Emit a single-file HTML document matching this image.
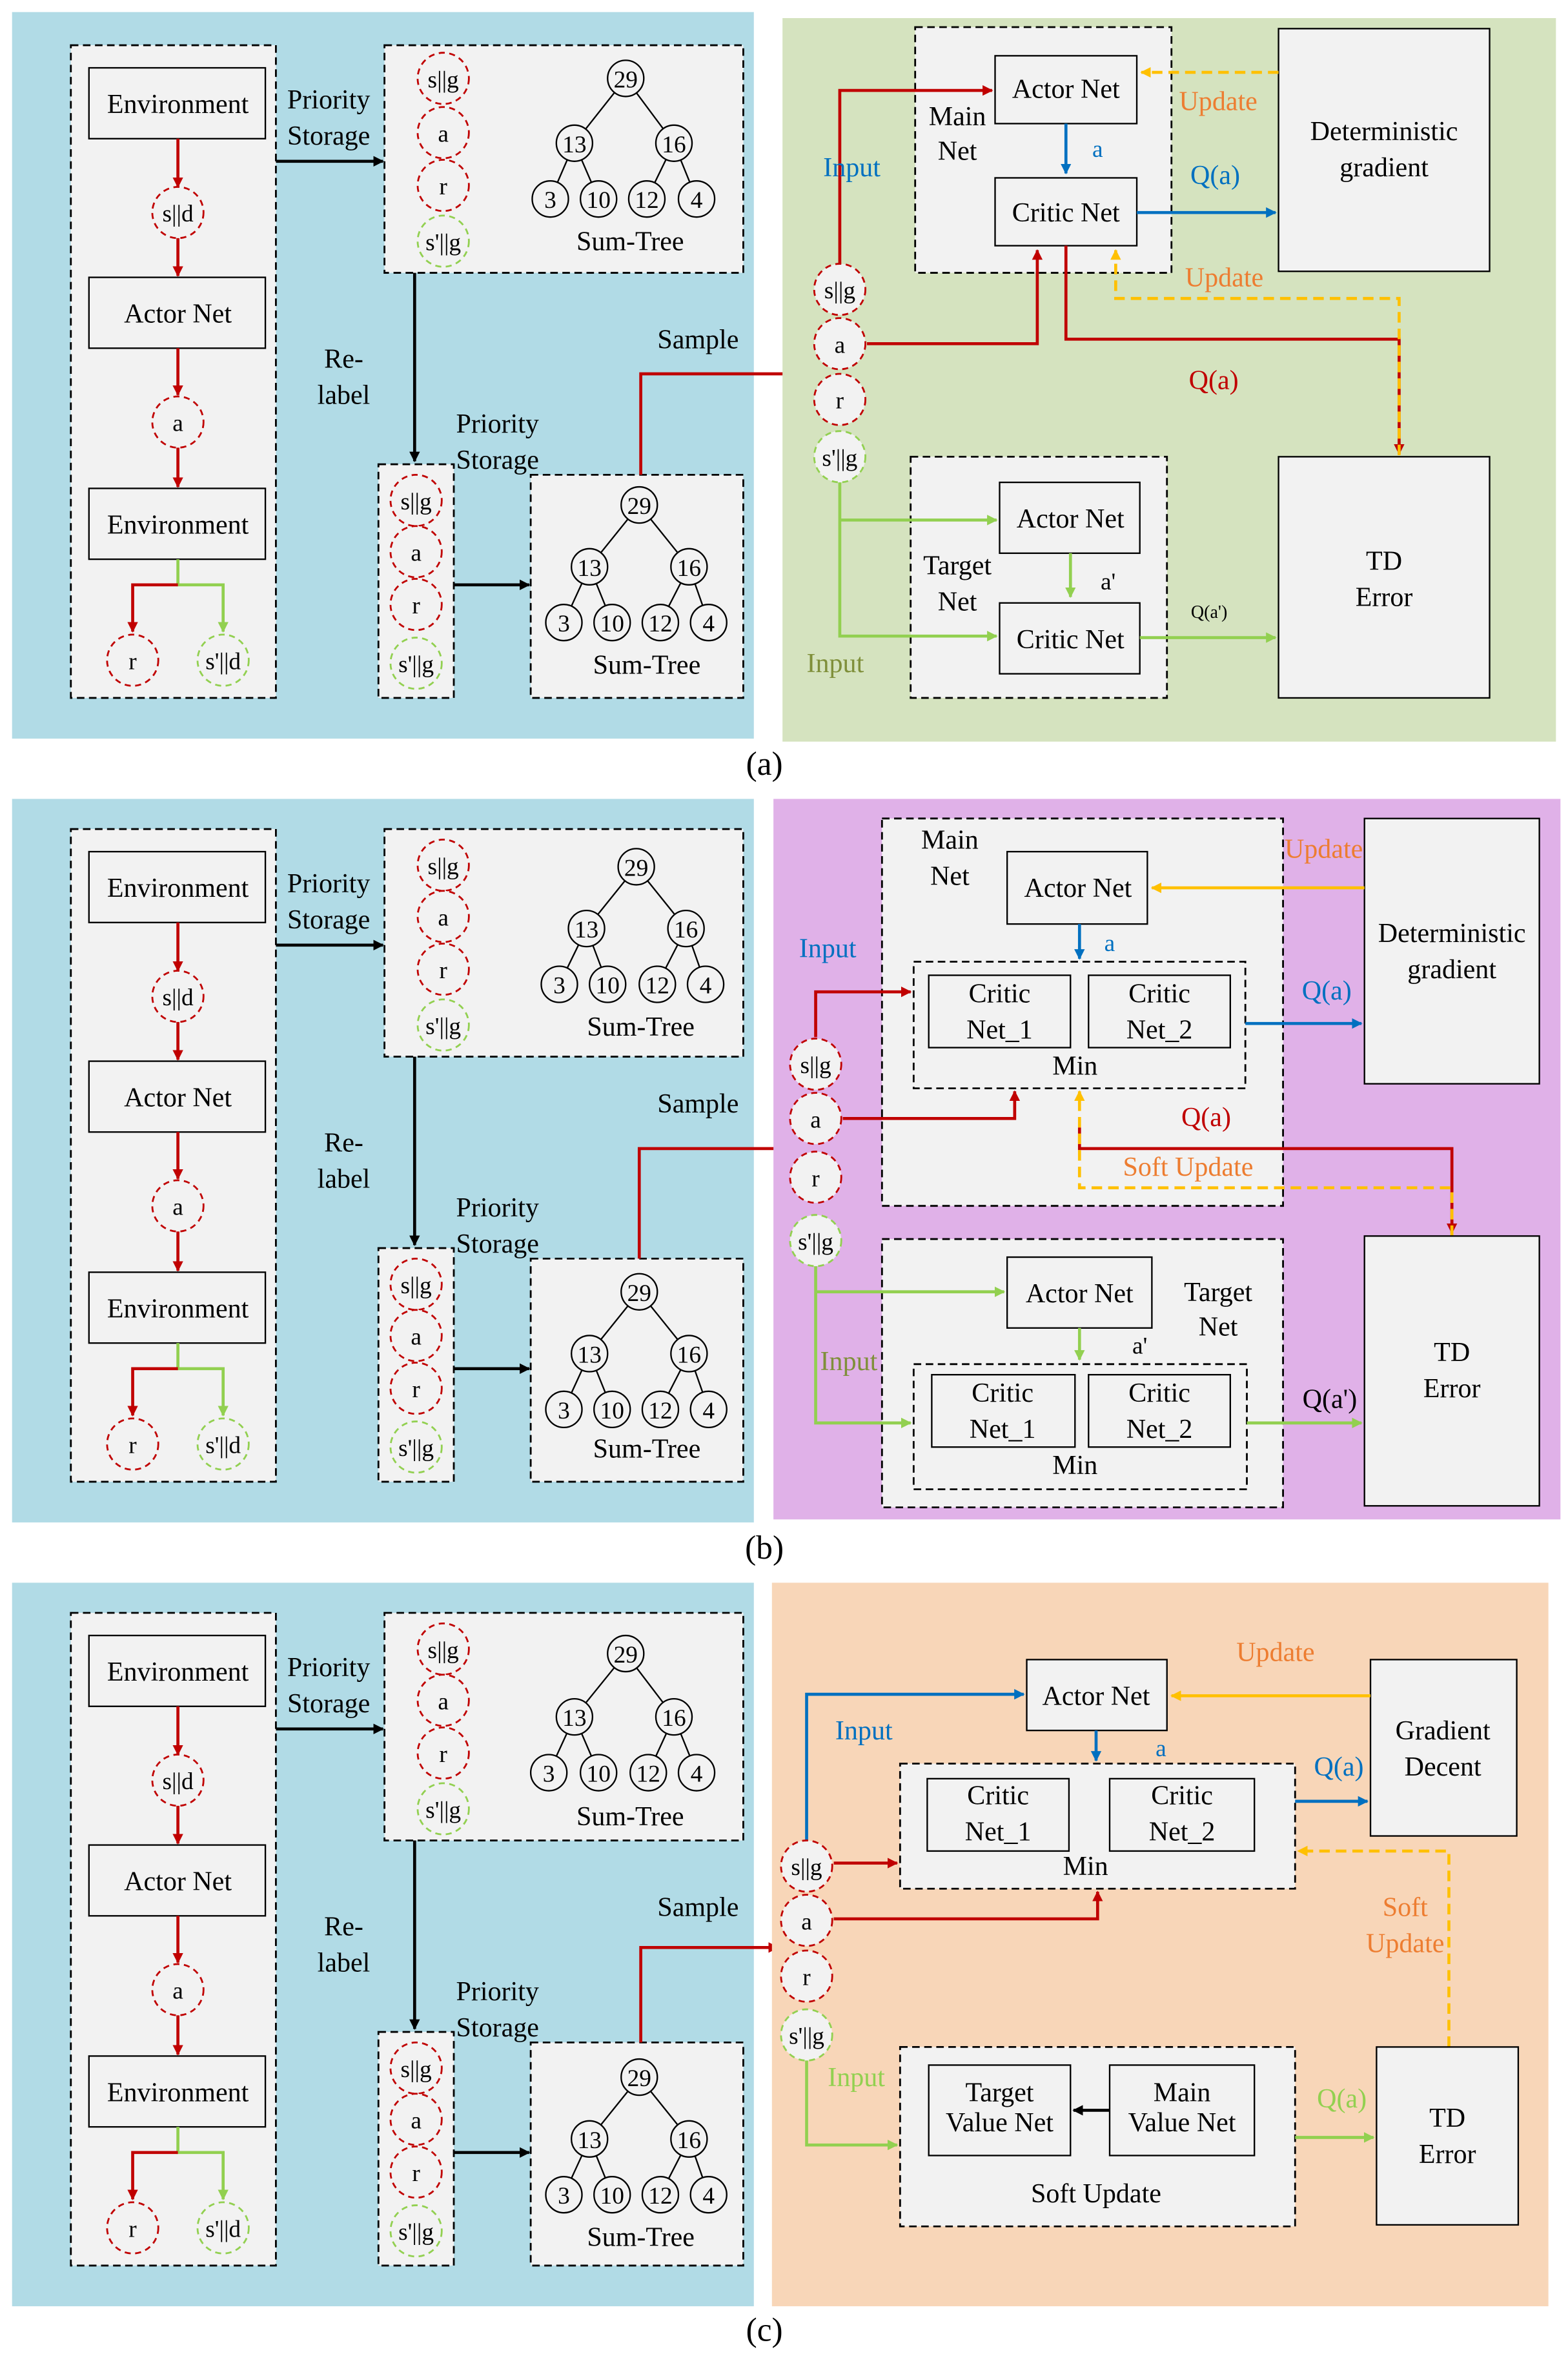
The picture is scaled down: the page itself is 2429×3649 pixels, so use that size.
<!DOCTYPE html>
<html><head><meta charset="utf-8"><style>html,body{margin:0;padding:0;background:#fff}svg{display:block}text{font-family:"Liberation Serif",serif;}</style></head><body>
<svg width="2429" height="3649" viewBox="0 0 1040 1563" preserveAspectRatio="none" xmlns="http://www.w3.org/2000/svg">
<defs>
<marker id="ar" viewBox="0 0 10 10" refX="9" refY="5" markerWidth="7" markerHeight="7" orient="auto" markerUnits="userSpaceOnUse"><path d="M0,0L10,5L0,10z" fill="#c00000"/></marker>
<marker id="ag" viewBox="0 0 10 10" refX="9" refY="5" markerWidth="7" markerHeight="7" orient="auto" markerUnits="userSpaceOnUse"><path d="M0,0L10,5L0,10z" fill="#92d050"/></marker>
<marker id="ab" viewBox="0 0 10 10" refX="9" refY="5" markerWidth="7" markerHeight="7" orient="auto" markerUnits="userSpaceOnUse"><path d="M0,0L10,5L0,10z" fill="#0070c0"/></marker>
<marker id="ao" viewBox="0 0 10 10" refX="9" refY="5" markerWidth="7" markerHeight="7" orient="auto" markerUnits="userSpaceOnUse"><path d="M0,0L10,5L0,10z" fill="#ffc000"/></marker>
<marker id="ak" viewBox="0 0 10 10" refX="9" refY="5" markerWidth="7" markerHeight="7" orient="auto" markerUnits="userSpaceOnUse"><path d="M0,0L10,5L0,10z" fill="#000"/></marker>
</defs>
<style>
.db{fill:#f2f2f2;stroke:#000;stroke-width:1.2;stroke-dasharray:5,3}
.bx{fill:#f2f2f2;stroke:#000;stroke-width:1}
.rc{fill:#f2f2f2;stroke:#c00000;stroke-width:1.2;stroke-dasharray:4,3}
.gc{fill:#f2f2f2;stroke:#92d050;stroke-width:1.2;stroke-dasharray:4,3}
.tc{fill:#f2f2f2;stroke:#000;stroke-width:1}
.t{font-size:18px;text-anchor:middle;fill:#000}
.s{font-size:16px;text-anchor:middle;fill:#000}
.r{stroke:#c00000;stroke-width:2;fill:none}
.g{stroke:#92d050;stroke-width:2;fill:none}
.b{stroke:#0070c0;stroke-width:2;fill:none}
.o{stroke:#ffc000;stroke-width:2;fill:none;stroke-dasharray:7,4}
.os{stroke:#ffc000;stroke-width:2;fill:none}
.k{stroke:#000;stroke-width:2;fill:none}
.tl{stroke:#000;stroke-width:1;fill:none}
</style>

<!-- ================= LEFT PANEL TEMPLATE x3 ================= -->
<g id="L0">
<rect x="8" y="8" width="492" height="482" fill="#b1dbe6"/>
<rect class="db" x="47" y="30" width="136" height="433"/>
<rect class="bx" x="59" y="45" width="117" height="47"/><text class="t" x="118" y="75">Environment</text>
<path class="r" d="M118,92V124" marker-end="url(#ar)"/>
<circle class="rc" cx="118" cy="141" r="17"/><text class="s" x="118" y="147">s||d</text>
<path class="r" d="M118,158V183" marker-end="url(#ar)"/>
<rect class="bx" x="59" y="184" width="117" height="47"/><text class="t" x="118" y="214">Actor Net</text>
<path class="r" d="M118,231V262" marker-end="url(#ar)"/>
<circle class="rc" cx="118" cy="280" r="17"/><text class="s" x="118" y="286">a</text>
<path class="r" d="M118,297V323" marker-end="url(#ar)"/>
<rect class="bx" x="59" y="324" width="117" height="47"/><text class="t" x="118" y="354">Environment</text>
<path class="g" d="M118,371V388H148V419" marker-end="url(#ag)"/>
<path class="r" d="M118,388H88V419" marker-end="url(#ar)"/>
<circle class="rc" cx="88" cy="438" r="17"/><text class="s" x="88" y="444">r</text>
<circle class="gc" cx="148" cy="438" r="17"/><text class="s" x="148" y="444">s'||d</text>
<text class="t" x="218" y="72">Priority</text><text class="t" x="218" y="96">Storage</text>
<path class="k" d="M183,107H254" marker-end="url(#ak)"/>
<rect class="db" x="255" y="30" width="238" height="151"/>
<circle class="rc" cx="294" cy="52" r="17"/><text class="s" x="294" y="58">s||g</text>
<circle class="rc" cx="294" cy="88" r="17"/><text class="s" x="294" y="94">a</text>
<circle class="rc" cx="294" cy="123" r="17"/><text class="s" x="294" y="129">r</text>
<circle class="gc" cx="294" cy="160" r="17"/><text class="s" x="294" y="166">s'||g</text>
<path class="tl" d="M415,52L381,95M415,52L447,95M381,95L365,132M381,95L397,132M447,95L429,132M447,95L462,132"/>
<circle class="tc" cx="415" cy="52" r="12"/><text class="s" x="415" y="58">29</text>
<circle class="tc" cx="381" cy="95" r="12"/><text class="s" x="381" y="101">13</text>
<circle class="tc" cx="447" cy="95" r="12"/><text class="s" x="447" y="101">16</text>
<circle class="tc" cx="365" cy="132" r="12"/><text class="s" x="365" y="138">3</text>
<circle class="tc" cx="397" cy="132" r="12"/><text class="s" x="397" y="138">10</text>
<circle class="tc" cx="429" cy="132" r="12"/><text class="s" x="429" y="138">12</text>
<circle class="tc" cx="462" cy="132" r="12"/><text class="s" x="462" y="138">4</text>
<text class="t" x="418" y="166">Sum-Tree</text>
<path class="k" d="M275,181V306" marker-end="url(#ak)"/>
<text class="t" x="228" y="244">Re-</text><text class="t" x="228" y="268">label</text>
<text class="t" x="330" y="287">Priority</text><text class="t" x="330" y="311">Storage</text>
<rect class="db" x="251" y="308" width="50" height="155"/>
<circle class="rc" cx="276" cy="332" r="17"/><text class="s" x="276" y="338">s||g</text>
<circle class="rc" cx="276" cy="366" r="17"/><text class="s" x="276" y="372">a</text>
<circle class="rc" cx="276" cy="401" r="17"/><text class="s" x="276" y="407">r</text>
<circle class="gc" cx="276" cy="440" r="17"/><text class="s" x="276" y="446">s'||g</text>
<path class="k" d="M301,388H351" marker-end="url(#ak)"/>
<rect class="db" x="352" y="315" width="141" height="148"/>
<path class="tl" d="M424,335L391,376M424,335L457,376M391,376L374,413M391,376L406,413M457,376L438,413M457,376L470,413"/>
<circle class="tc" cx="424" cy="335" r="12"/><text class="s" x="424" y="341">29</text>
<circle class="tc" cx="391" cy="376" r="12"/><text class="s" x="391" y="382">13</text>
<circle class="tc" cx="457" cy="376" r="12"/><text class="s" x="457" y="382">16</text>
<circle class="tc" cx="374" cy="413" r="12"/><text class="s" x="374" y="419">3</text>
<circle class="tc" cx="406" cy="413" r="12"/><text class="s" x="406" y="419">10</text>
<circle class="tc" cx="438" cy="413" r="12"/><text class="s" x="438" y="419">12</text>
<circle class="tc" cx="470" cy="413" r="12"/><text class="s" x="470" y="419">4</text>
<text class="t" x="429" y="447">Sum-Tree</text>
<text class="t" x="463" y="231">Sample</text>
</g>

<g transform="translate(0,520)">
<rect x="8" y="10" width="492" height="480" fill="#b1dbe6"/>
<rect class="db" x="47" y="30" width="136" height="433"/>
<rect class="bx" x="59" y="45" width="117" height="47"/><text class="t" x="118" y="75">Environment</text>
<path class="r" d="M118,92V124" marker-end="url(#ar)"/>
<circle class="rc" cx="118" cy="141" r="17"/><text class="s" x="118" y="147">s||d</text>
<path class="r" d="M118,158V183" marker-end="url(#ar)"/>
<rect class="bx" x="59" y="184" width="117" height="47"/><text class="t" x="118" y="214">Actor Net</text>
<path class="r" d="M118,231V262" marker-end="url(#ar)"/>
<circle class="rc" cx="118" cy="280" r="17"/><text class="s" x="118" y="286">a</text>
<path class="r" d="M118,297V323" marker-end="url(#ar)"/>
<rect class="bx" x="59" y="324" width="117" height="47"/><text class="t" x="118" y="354">Environment</text>
<path class="g" d="M118,371V388H148V419" marker-end="url(#ag)"/>
<path class="r" d="M118,388H88V419" marker-end="url(#ar)"/>
<circle class="rc" cx="88" cy="438" r="17"/><text class="s" x="88" y="444">r</text>
<circle class="gc" cx="148" cy="438" r="17"/><text class="s" x="148" y="444">s'||d</text>
<text class="t" x="218" y="72">Priority</text><text class="t" x="218" y="96">Storage</text>
<path class="k" d="M183,107H254" marker-end="url(#ak)"/>
<rect class="db" x="255" y="30" width="238" height="151"/>
<circle class="rc" cx="294" cy="54" r="17"/><text class="s" x="294" y="60">s||g</text>
<circle class="rc" cx="294" cy="88" r="17"/><text class="s" x="294" y="94">a</text>
<circle class="rc" cx="294" cy="123" r="17"/><text class="s" x="294" y="129">r</text>
<circle class="gc" cx="294" cy="160" r="17"/><text class="s" x="294" y="166">s'||g</text>
<path class="tl" d="M422,55L389,96M422,55L455,96M389,96L371,133M389,96L403,133M455,96L436,133M455,96L468,133"/>
<circle class="tc" cx="422" cy="55" r="12"/><text class="s" x="422" y="61">29</text>
<circle class="tc" cx="389" cy="96" r="12"/><text class="s" x="389" y="102">13</text>
<circle class="tc" cx="455" cy="96" r="12"/><text class="s" x="455" y="102">16</text>
<circle class="tc" cx="371" cy="133" r="12"/><text class="s" x="371" y="139">3</text>
<circle class="tc" cx="403" cy="133" r="12"/><text class="s" x="403" y="139">10</text>
<circle class="tc" cx="436" cy="133" r="12"/><text class="s" x="436" y="139">12</text>
<circle class="tc" cx="468" cy="133" r="12"/><text class="s" x="468" y="139">4</text>
<text class="t" x="425" y="167">Sum-Tree</text>
<path class="k" d="M275,181V306" marker-end="url(#ak)"/>
<text class="t" x="228" y="244">Re-</text><text class="t" x="228" y="268">label</text>
<text class="t" x="330" y="287">Priority</text><text class="t" x="330" y="311">Storage</text>
<rect class="db" x="251" y="308" width="50" height="155"/>
<circle class="rc" cx="276" cy="332" r="17"/><text class="s" x="276" y="338">s||g</text>
<circle class="rc" cx="276" cy="366" r="17"/><text class="s" x="276" y="372">a</text>
<circle class="rc" cx="276" cy="401" r="17"/><text class="s" x="276" y="407">r</text>
<circle class="gc" cx="276" cy="440" r="17"/><text class="s" x="276" y="446">s'||g</text>
<path class="k" d="M301,388H351" marker-end="url(#ak)"/>
<rect class="db" x="352" y="315" width="141" height="148"/>
<path class="tl" d="M424,337L391,378M424,337L457,378M391,378L374,415M391,378L406,415M457,378L438,415M457,378L470,415"/>
<circle class="tc" cx="424" cy="337" r="12"/><text class="s" x="424" y="343">29</text>
<circle class="tc" cx="391" cy="378" r="12"/><text class="s" x="391" y="384">13</text>
<circle class="tc" cx="457" cy="378" r="12"/><text class="s" x="457" y="384">16</text>
<circle class="tc" cx="374" cy="415" r="12"/><text class="s" x="374" y="421">3</text>
<circle class="tc" cx="406" cy="415" r="12"/><text class="s" x="406" y="421">10</text>
<circle class="tc" cx="438" cy="415" r="12"/><text class="s" x="438" y="421">12</text>
<circle class="tc" cx="470" cy="415" r="12"/><text class="s" x="470" y="421">4</text>
<text class="t" x="429" y="447">Sum-Tree</text>
<text class="t" x="463" y="218">Sample</text>
</g>

<g transform="translate(0,1040)">
<rect x="8" y="10" width="492" height="480" fill="#b1dbe6"/>
<rect class="db" x="47" y="30" width="136" height="433"/>
<rect class="bx" x="59" y="45" width="117" height="47"/><text class="t" x="118" y="75">Environment</text>
<path class="r" d="M118,92V124" marker-end="url(#ar)"/>
<circle class="rc" cx="118" cy="141" r="17"/><text class="s" x="118" y="147">s||d</text>
<path class="r" d="M118,158V183" marker-end="url(#ar)"/>
<rect class="bx" x="59" y="184" width="117" height="47"/><text class="t" x="118" y="214">Actor Net</text>
<path class="r" d="M118,231V262" marker-end="url(#ar)"/>
<circle class="rc" cx="118" cy="280" r="17"/><text class="s" x="118" y="286">a</text>
<path class="r" d="M118,297V323" marker-end="url(#ar)"/>
<rect class="bx" x="59" y="324" width="117" height="47"/><text class="t" x="118" y="354">Environment</text>
<path class="g" d="M118,371V388H148V419" marker-end="url(#ag)"/>
<path class="r" d="M118,388H88V419" marker-end="url(#ar)"/>
<circle class="rc" cx="88" cy="438" r="17"/><text class="s" x="88" y="444">r</text>
<circle class="gc" cx="148" cy="438" r="17"/><text class="s" x="148" y="444">s'||d</text>
<text class="t" x="218" y="72">Priority</text><text class="t" x="218" y="96">Storage</text>
<path class="k" d="M183,107H254" marker-end="url(#ak)"/>
<rect class="db" x="255" y="30" width="238" height="151"/>
<circle class="rc" cx="294" cy="54" r="17"/><text class="s" x="294" y="60">s||g</text>
<circle class="rc" cx="294" cy="88" r="17"/><text class="s" x="294" y="94">a</text>
<circle class="rc" cx="294" cy="123" r="17"/><text class="s" x="294" y="129">r</text>
<circle class="gc" cx="294" cy="160" r="17"/><text class="s" x="294" y="166">s'||g</text>
<path class="tl" d="M415,57L381,99M415,57L447,99M381,99L364,136M381,99L397,136M447,99L430,136M447,99L462,136"/>
<circle class="tc" cx="415" cy="57" r="12"/><text class="s" x="415" y="63">29</text>
<circle class="tc" cx="381" cy="99" r="12"/><text class="s" x="381" y="105">13</text>
<circle class="tc" cx="447" cy="99" r="12"/><text class="s" x="447" y="105">16</text>
<circle class="tc" cx="364" cy="136" r="12"/><text class="s" x="364" y="142">3</text>
<circle class="tc" cx="397" cy="136" r="12"/><text class="s" x="397" y="142">10</text>
<circle class="tc" cx="430" cy="136" r="12"/><text class="s" x="430" y="142">12</text>
<circle class="tc" cx="462" cy="136" r="12"/><text class="s" x="462" y="142">4</text>
<text class="t" x="418" y="171">Sum-Tree</text>
<path class="k" d="M275,181V306" marker-end="url(#ak)"/>
<text class="t" x="228" y="244">Re-</text><text class="t" x="228" y="268">label</text>
<text class="t" x="330" y="287">Priority</text><text class="t" x="330" y="311">Storage</text>
<rect class="db" x="251" y="308" width="50" height="155"/>
<circle class="rc" cx="276" cy="332" r="17"/><text class="s" x="276" y="338">s||g</text>
<circle class="rc" cx="276" cy="366" r="17"/><text class="s" x="276" y="372">a</text>
<circle class="rc" cx="276" cy="401" r="17"/><text class="s" x="276" y="407">r</text>
<circle class="gc" cx="276" cy="440" r="17"/><text class="s" x="276" y="446">s'||g</text>
<path class="k" d="M301,388H351" marker-end="url(#ak)"/>
<rect class="db" x="352" y="315" width="141" height="148"/>
<path class="tl" d="M424,338L391,379M424,338L457,379M391,379L374,416M391,379L406,416M457,379L438,416M457,379L470,416"/>
<circle class="tc" cx="424" cy="338" r="12"/><text class="s" x="424" y="344">29</text>
<circle class="tc" cx="391" cy="379" r="12"/><text class="s" x="391" y="385">13</text>
<circle class="tc" cx="457" cy="379" r="12"/><text class="s" x="457" y="385">16</text>
<circle class="tc" cx="374" cy="416" r="12"/><text class="s" x="374" y="422">3</text>
<circle class="tc" cx="406" cy="416" r="12"/><text class="s" x="406" y="422">10</text>
<circle class="tc" cx="438" cy="416" r="12"/><text class="s" x="438" y="422">12</text>
<circle class="tc" cx="470" cy="416" r="12"/><text class="s" x="470" y="422">4</text>
<text class="t" x="425" y="450">Sum-Tree</text>
<text class="t" x="463" y="231">Sample</text>
</g>

<!-- Sample red lines -->
<path class="r" d="M425,315V248H538" marker-end="url(#ar)"/>
<path class="r" d="M424,835V762H520" marker-end="url(#ar)"/>
<path class="r" d="M425,1355V1292H516" marker-end="url(#ar)"/>

<!-- ================= RIGHT (a) ================= -->
<rect x="519" y="12" width="513" height="480" fill="#d5e3bf"/>
<rect class="db" x="607" y="18" width="170" height="163"/>
<text class="t" x="635" y="83">Main</text><text class="t" x="635" y="106">Net</text>
<rect class="bx" x="660" y="37" width="94" height="45"/><text class="t" x="707" y="65">Actor Net</text>
<rect class="bx" x="660" y="118" width="94" height="45"/><text class="t" x="707" y="147">Critic Net</text>
<path class="b" d="M707,82V115" marker-end="url(#ab)"/><text class="s" x="728" y="104" fill="#0070c0" style="fill:#0070c0">a</text>
<rect class="bx" x="848" y="19" width="140" height="161"/><text class="t" x="918" y="93">Deterministic</text><text class="t" x="918" y="117">gradient</text>
<path class="o" d="M848,48H757" marker-end="url(#ao)"/><text class="t" x="808" y="73" style="fill:#ed7d31">Update</text>
<path class="b" d="M754,141H846" marker-end="url(#ab)"/><text class="t" x="806" y="122" style="fill:#0070c0">Q(a)</text>
<path class="r" d="M557,175V60H658" marker-end="url(#ar)"/><text class="t" x="565" y="117" style="fill:#0070c0">Input</text>
<path class="r" d="M575,228H688V166" marker-end="url(#ar)"/>
<path class="r" d="M707,163V225H928V301" marker-end="url(#ar)"/><text class="t" x="805" y="258" style="fill:#c00000">Q(a)</text>
<path class="o" d="M928,302V198H740V166" marker-end="url(#ao)"/><text class="t" x="812" y="190" style="fill:#ed7d31">Update</text>
<circle class="rc" cx="557" cy="192" r="17"/><text class="s" x="557" y="198">s||g</text>
<circle class="rc" cx="557" cy="228" r="17"/><text class="s" x="557" y="234">a</text>
<circle class="rc" cx="557" cy="265" r="17"/><text class="s" x="557" y="271">r</text>
<circle class="gc" cx="557" cy="303" r="17"/><text class="s" x="557" y="309">s'||g</text>
<rect class="db" x="604" y="303" width="170" height="160"/>
<text class="t" x="635" y="381">Target</text><text class="t" x="635" y="405">Net</text>
<rect class="bx" x="663" y="320" width="93" height="47"/><text class="t" x="710" y="350">Actor Net</text>
<rect class="bx" x="663" y="400" width="93" height="47"/><text class="t" x="710" y="430">Critic Net</text>
<path class="g" d="M710,367V396" marker-end="url(#ag)"/><text class="s" x="735" y="391">a'</text>
<path class="g" d="M557,320V422H661" marker-end="url(#ag)"/>
<path class="g" d="M557,345H661" marker-end="url(#ag)"/>
<text class="t" x="554" y="446" style="fill:#7f8f3a">Input</text>
<path class="g" d="M756,423H846" marker-end="url(#ag)"/><text x="802" y="410" style="font-size:12px;text-anchor:middle">Q(a')</text>
<rect class="bx" x="848" y="303" width="140" height="160"/><text class="t" x="918" y="378">TD</text><text class="t" x="918" y="402">Error</text>

<!-- ================= RIGHT (b) ================= -->
<rect x="513" y="530" width="522" height="478" fill="#e0b1e8"/>
<rect class="db" x="585" y="543" width="266" height="257"/>
<text class="t" x="630" y="563">Main</text><text class="t" x="630" y="587">Net</text>
<rect class="bx" x="668" y="565" width="93" height="48"/><text class="t" x="715" y="595">Actor Net</text>
<path class="b" d="M716,613V636" marker-end="url(#ab)"/><text class="s" x="736" y="631" style="fill:#0070c0">a</text>
<rect class="db" x="606" y="638" width="220" height="84"/>
<rect class="bx" x="616" y="647" width="94" height="48"/><text class="t" x="663" y="665">Critic</text><text class="t" x="663" y="689">Net_1</text>
<rect class="bx" x="722" y="647" width="94" height="48"/><text class="t" x="769" y="665">Critic</text><text class="t" x="769" y="689">Net_2</text>
<text class="t" x="713" y="713">Min</text>
<path class="b" d="M826,679H903" marker-end="url(#ab)"/><text class="t" x="880" y="663" style="fill:#0070c0">Q(a)</text>
<rect class="bx" x="905" y="543" width="116" height="176"/><text class="t" x="963" y="625">Deterministic</text><text class="t" x="963" y="649">gradient</text>
<path class="os" d="M905,589H764" marker-end="url(#ao)"/><text class="t" x="878" y="569" style="fill:#ed7d31">Update</text>
<path class="r" d="M541,688V658H604" marker-end="url(#ar)"/><text class="t" x="549" y="635" style="fill:#0070c0">Input</text>
<path class="r" d="M559,742H673V724" marker-end="url(#ar)"/>
<path class="r" d="M716,748V762H963V818" marker-end="url(#ar)"/><text class="t" x="800" y="747" style="fill:#c00000">Q(a)</text>
<path class="o" d="M963,820V788H716V724" marker-end="url(#ao)"/><text class="t" x="788" y="780" style="fill:#ed7d31">Soft  Update</text>
<circle class="rc" cx="541" cy="706" r="17"/><text class="s" x="541" y="712">s||g</text>
<circle class="rc" cx="541" cy="742" r="17"/><text class="s" x="541" y="748">a</text>
<circle class="rc" cx="541" cy="781" r="17"/><text class="s" x="541" y="787">r</text>
<circle class="gc" cx="541" cy="823" r="17"/><text class="s" x="541" y="829">s'||g</text>
<rect class="db" x="585" y="822" width="266" height="178"/>
<text class="t" x="808" y="863">Target</text><text class="t" x="808" y="886">Net</text>
<rect class="bx" x="668" y="834" width="96" height="47"/><text class="t" x="716" y="864">Actor Net</text>
<path class="g" d="M716,881V902" marker-end="url(#ag)"/><text class="s" x="756" y="898">a'</text>
<rect class="db" x="606" y="905" width="221" height="83"/>
<rect class="bx" x="618" y="912" width="95" height="48"/><text class="t" x="665" y="930">Critic</text><text class="t" x="665" y="954">Net_1</text>
<rect class="bx" x="722" y="912" width="94" height="48"/><text class="t" x="769" y="930">Critic</text><text class="t" x="769" y="954">Net_2</text>
<text class="t" x="713" y="978">Min</text>
<path class="g" d="M541,840V944H604" marker-end="url(#ag)"/>
<path class="g" d="M541,857H666" marker-end="url(#ag)"/>
<text class="t" x="563" y="909" style="fill:#7f8f3a">Input</text>
<path class="g" d="M827,944H903" marker-end="url(#ag)"/><text class="t" x="882" y="934">Q(a')</text>
<rect class="bx" x="905" y="820" width="116" height="179"/><text class="t" x="963" y="903">TD</text><text class="t" x="963" y="927">Error</text>

<!-- ================= RIGHT (c) ================= -->
<rect x="512" y="1050" width="515" height="480" fill="#f8d6b8"/>
<rect class="bx" x="681" y="1101" width="93" height="47"/><text class="t" x="727" y="1131">Actor Net</text>
<rect class="bx" x="909" y="1101" width="97" height="117"/><text class="t" x="957" y="1154">Gradient</text><text class="t" x="957" y="1178">Decent</text>
<path class="os" d="M909,1125H777" marker-end="url(#ao)"/><text class="t" x="846" y="1102" style="fill:#ed7d31">Update</text>
<path class="b" d="M727,1148V1168" marker-end="url(#ab)"/><text class="s" x="770" y="1165" style="fill:#0070c0">a</text>
<rect class="db" x="597" y="1170" width="262" height="83"/>
<rect class="bx" x="615" y="1180" width="94" height="48"/><text class="t" x="662" y="1197">Critic</text><text class="t" x="662" y="1221">Net_1</text>
<rect class="bx" x="736" y="1180" width="96" height="48"/><text class="t" x="784" y="1197">Critic</text><text class="t" x="784" y="1221">Net_2</text>
<text class="t" x="720" y="1244">Min</text>
<path class="b" d="M859,1195H907" marker-end="url(#ab)"/><text class="t" x="888" y="1178" style="fill:#0070c0">Q(a)</text>
<path class="b" d="M535,1222V1124H679" marker-end="url(#ab)"/><text class="t" x="573" y="1154" style="fill:#0070c0">Input</text>
<path class="r" d="M553,1236H595" marker-end="url(#ar)"/>
<path class="r" d="M553,1273H728V1255" marker-end="url(#ar)"/>
<path class="o" d="M961,1358V1228H861" marker-end="url(#ao)"/><text class="t" x="932" y="1271" style="fill:#ed7d31">Soft</text><text class="t" x="932" y="1295" style="fill:#ed7d31">Update</text>
<circle class="rc" cx="535" cy="1238" r="17"/><text class="s" x="535" y="1244">s||g</text>
<circle class="rc" cx="535" cy="1274" r="17"/><text class="s" x="535" y="1280">a</text>
<circle class="rc" cx="535" cy="1311" r="17"/><text class="s" x="535" y="1317">r</text>
<circle class="gc" cx="535" cy="1350" r="17"/><text class="s" x="535" y="1356">s'||g</text>
<rect class="db" x="597" y="1358" width="262" height="119"/>
<rect class="bx" x="616" y="1370" width="94" height="60"/><text class="t" x="663" y="1394">Target</text><text class="t" x="663" y="1414">Value Net</text>
<rect class="bx" x="736" y="1370" width="96" height="60"/><text class="t" x="784" y="1394">Main</text><text class="t" x="784" y="1414">Value Net</text>
<path class="k" d="M736,1400H712" marker-end="url(#ak)"/>
<text class="t" x="727" y="1461">Soft Update</text>
<path class="g" d="M535,1367V1423H595" marker-end="url(#ag)"/><text class="t" x="568" y="1384" style="fill:#92d050">Input</text>
<path class="g" d="M859,1418H911" marker-end="url(#ag)"/><text class="t" x="890" y="1398" style="fill:#92d050">Q(a)</text>
<rect class="bx" x="913" y="1358" width="94" height="118"/><text class="t" x="960" y="1411">TD</text><text class="t" x="960" y="1435">Error</text>

<text class="t" x="507" y="514" style="font-size:22px">(a)</text>
<text class="t" x="507" y="1034" style="font-size:22px">(b)</text>
<text class="t" x="507" y="1553" style="font-size:22px">(c)</text>
</svg>
</body></html>
